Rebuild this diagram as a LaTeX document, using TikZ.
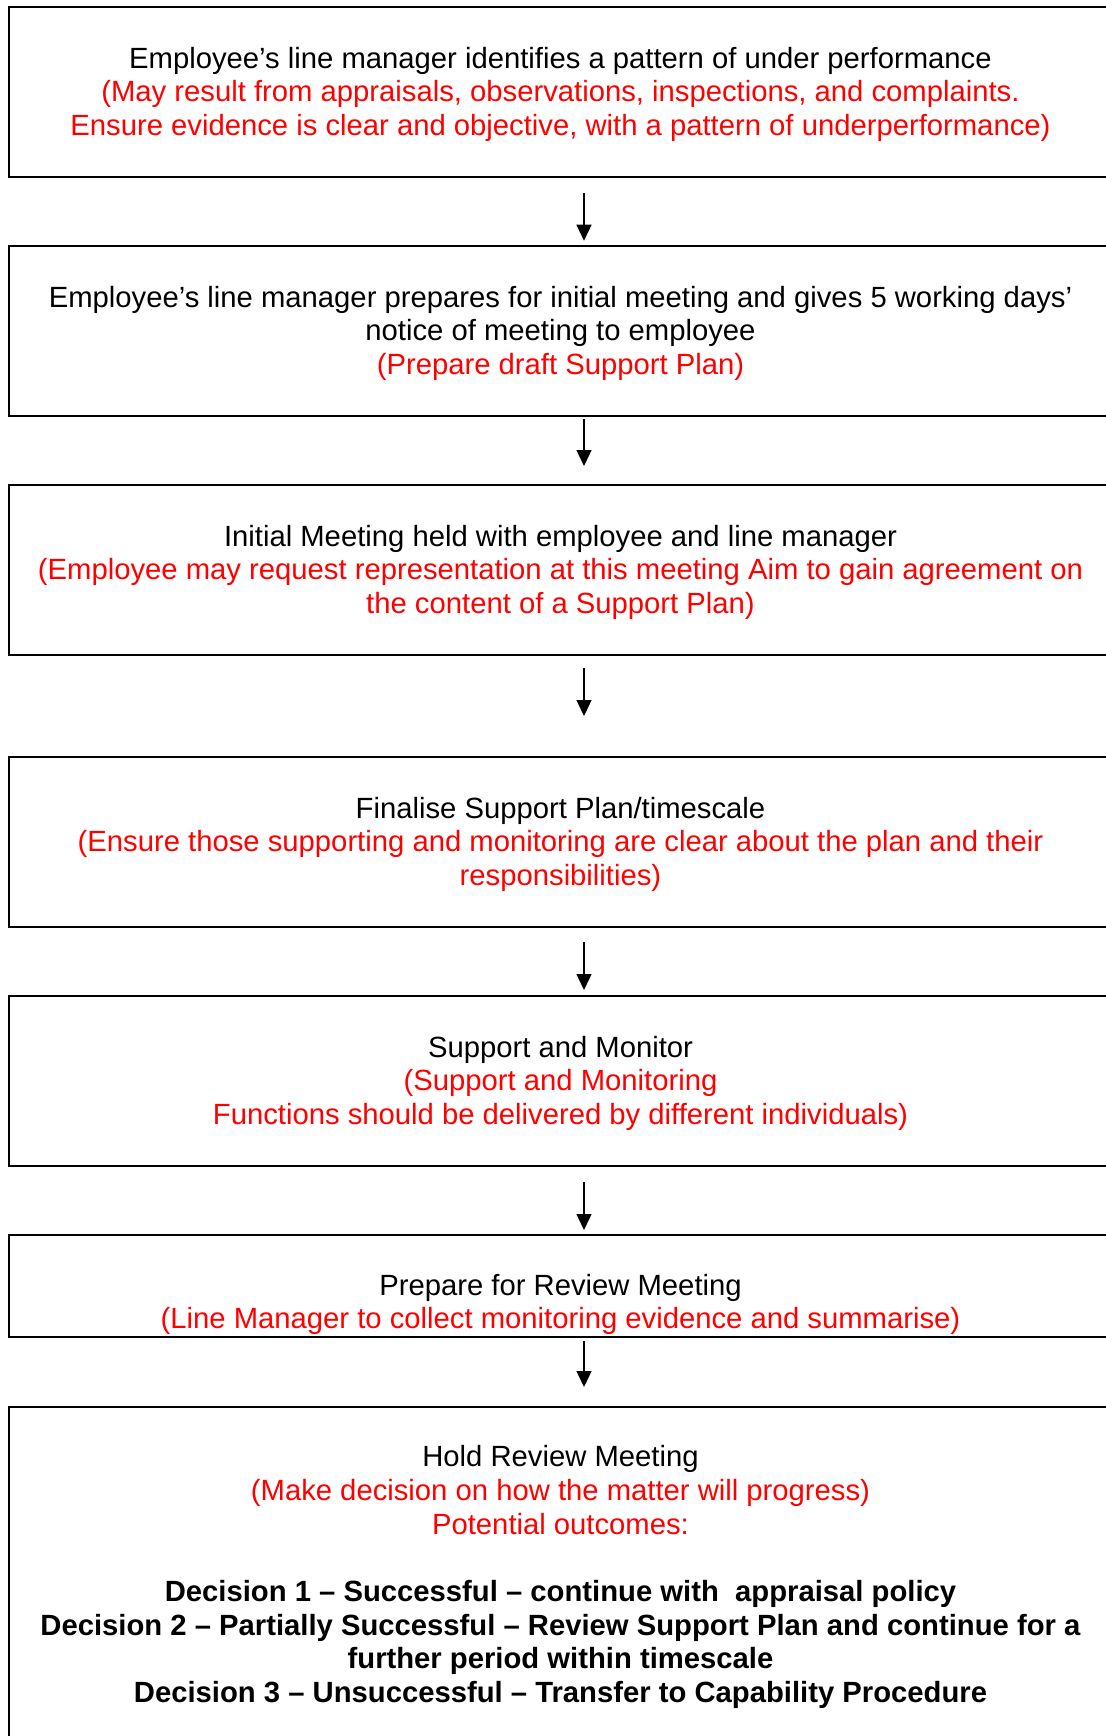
\documentclass[tikz,border=0pt]{standalone}
\usepackage{fontspec}
\setmainfont{Liberation Sans}
\usetikzlibrary{arrows.meta}

\tikzset{
  stage/.style={draw, line width=1pt, minimum width=575pt, inner sep=0pt, outer sep=0pt},
  stagetext/.style={align=center, inner sep=0pt, anchor=base, font=\fontsize{14.62pt}{16.85pt}\selectfont},
  flow/.style={-{Triangle[length=8pt,width=7.5pt]}, line width=0.65pt}
}

\begin{document}
\begin{tikzpicture}[x=0.5pt,y=-0.5pt]
\useasboundingbox (0,0) rectangle (1105,1736);
\node[stage, minimum height=85pt] (B1) at (584,92) {};
\node[stage, minimum height=85pt] (B2) at (584,331) {};
\node[stage, minimum height=85pt] (B3) at (584,570) {};
\node[stage, minimum height=85pt] (B4) at (584,842) {};
\node[stage, minimum height=85pt] (B5) at (584,1081) {};
\node[stage, minimum height=51pt] (B6) at (584,1286) {};
\node[stage, minimum height=180pt] (B7) at (584,1587) {};
\node[stagetext] (T1) at (560.5,135.4) {Employee’s line manager identifies a pattern of under performance\\
  \textcolor{red}{(May result from appraisals, observations, inspections, and complaints.}\\
  \textcolor{red}{Ensure evidence is clear and objective, with a pattern of underperformance)}};
\node[stagetext] (T2) at (560.5,374.4) {Employee’s line manager prepares for initial meeting and gives 5 working days’\\
  notice of meeting to employee\\
  \textcolor{red}{(Prepare draft Support Plan)}};
\node[stagetext] (T3) at (560.5,613.4) {Initial Meeting held with employee and line manager\\
  \textcolor{red}{(Employee may request representation at this meeting Aim to gain agreement on}\\
  \textcolor{red}{the content of a Support Plan)}};
\node[stagetext] (T4) at (560.5,885.4) {Finalise Support Plan/timescale\\
  \textcolor{red}{(Ensure those supporting and monitoring are clear about the plan and their}\\
  \textcolor{red}{responsibilities)}};
\node[stagetext] (T5) at (560.5,1124.4) {Support and Monitor\\
  \textcolor{red}{(Support and Monitoring}\\
  \textcolor{red}{Functions should be delivered by different individuals)}};
\node[stagetext] (T6) at (560.5,1328.7) {Prepare for Review Meeting\\
  \textcolor{red}{(Line Manager to collect monitoring evidence and summarise)}};
\node[stagetext] (T7) at (560.5,1702.5) {Hold Review Meeting\\
  \textcolor{red}{(Make decision on how the matter will progress)}\\
  \textcolor{red}{Potential outcomes:}\\[\baselineskip]
  \textbf{Decision 1 – Successful – continue with~ appraisal policy}\\
  \textbf{Decision 2 – Partially Successful – Review Support Plan and continue for a}\\
  \textbf{further period within timescale}\\
  \textbf{Decision 3 – Unsuccessful – Transfer to Capability Procedure}};
\draw[flow, shorten <=8pt, shorten >=2.65pt] (B1) -- (B2);
\draw[flow, shorten <=1.5pt, shorten >=9.5pt] (B2) -- (B3);
\draw[flow, shorten <=6.5pt, shorten >=20.5pt] (B3) -- (B4);
\draw[flow, shorten <=7.5pt, shorten >=3pt] (B4) -- (B5);
\draw[flow, shorten <=8pt, shorten >=2.5pt] (B5) -- (B6);
\draw[flow, shorten <=2pt, shorten >=10pt] (B6) -- (B7);
\end{tikzpicture}
\end{document}
